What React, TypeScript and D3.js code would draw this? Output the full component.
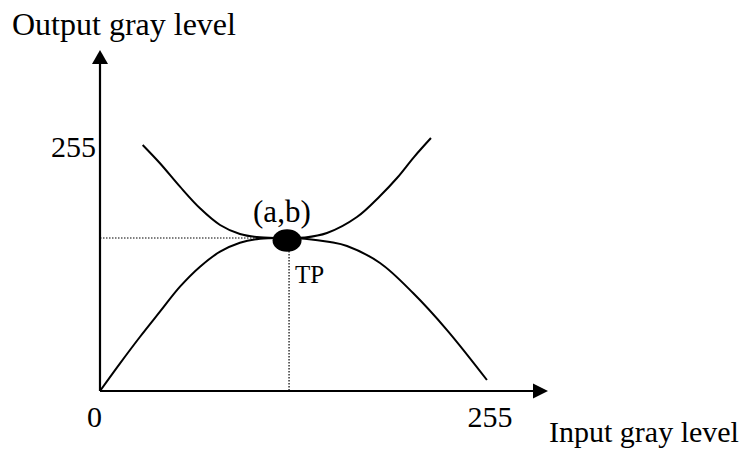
import React from "react";
import * as d3 from "d3";

const W = 748;
const H = 454;

// axis domain (gray levels)
const axisMax = 255;
const xTickLabels = ["0", "255"];
const yTickLabels = ["255"];

// upper curve (input, output)
const upperX = [27.9, 39.2, 52.3, 65.4, 78.5, 91.5, 104.6, 122.3, 134.0, 148.4, 168.0, 183.1, 194.2, 205.3, 216.4];
const upperY = [257.1, 238.0, 213.5, 190.9, 173.5, 164.1, 160.6, 159.9, 160.4, 165.1, 181.8, 203.8, 222.6, 244.5, 264.4];

// lower curve (input, output)
const lowerX = [0, 13.1, 26.2, 39.2, 52.3, 65.4, 78.5, 91.5, 104.6, 122.3, 134.0, 150.4, 161.5, 183.1, 204.7, 226.9, 253.0];
const lowerY = [0, 28.9, 56.7, 82.9, 109.0, 129.9, 145.6, 155.0, 159.2, 159.9, 159.2, 155.7, 151.5, 133.8, 102.4, 63.7, 11.5];

// turning point (a, b)
const tpX = 122.3;
const tpY = 159.9;

const FONT = "'Liberation Serif', 'Times New Roman', serif";

export default function App() {
  const x = d3.scaleLinear().domain([0, axisMax]).range([100, 490]);
  const y = d3.scaleLinear().domain([0, axisMax]).range([391, 147]);

  const line = d3
    .line<[number, number]>()
    .x((d) => x(d[0]))
    .y((d) => y(d[1]))
    .curve(d3.curveCatmullRom.alpha(0.5));

  const upper = upperX.map((v, i) => [v, upperY[i]] as [number, number]);
  const lower = lowerX.map((v, i) => [v, lowerY[i]] as [number, number]);

  const ox = x(0);
  const oy = y(0);
  const tx = x(tpX);
  const ty = y(tpY);

  return (
    <svg
      width={W}
      height={H}
      viewBox={`0 0 ${W} ${H}`}
      style={{ position: "absolute", left: 0, top: 0, background: "#fff" }}
    >
      <rect x={0} y={0} width={W} height={H} fill="#fff" />
      {/* dotted guides */}
      <line x1={ox} y1={ty} x2={tx - 12} y2={ty} stroke="#000" strokeWidth={1.2} strokeDasharray="1.5 1.5" />
      <line x1={tx + 2} y1={ty + 13} x2={tx + 2} y2={oy} stroke="#000" strokeWidth={1.2} strokeDasharray="1.5 1.5" />

      {/* curves */}
      <path d={line(upper) || ""} fill="none" stroke="#000" strokeWidth={2} />
      <path d={line(lower) || ""} fill="none" stroke="#000" strokeWidth={2} />

      {/* axes */}
      <line x1={ox} y1={oy} x2={ox} y2={63} stroke="#000" strokeWidth={2.2} />
      <polygon points={`${ox},50 ${ox - 8},64 ${ox + 8},64`} fill="#000" />
      <line x1={ox} y1={oy} x2={534} y2={oy} stroke="#000" strokeWidth={2.2} />
      <polygon points={`548,${oy} 533,${oy - 7.5} 533,${oy + 7.5}`} fill="#000" />

      {/* turning point */}
      <ellipse cx={tx} cy={ty + 2.5} rx={14.5} ry={11.2} fill="#000" />

      {/* texts */}
      <text x={12} y={35} fontFamily={FONT} fontSize={32} fill="#000">
        Output gray level
      </text>
      <text x={96} y={157} fontFamily={FONT} fontSize={30} textAnchor="end" fill="#000">
        {yTickLabels[0]}
      </text>
      <text x={ox - 5.5} y={427} fontFamily={FONT} fontSize={30} textAnchor="middle" fill="#000">
        {xTickLabels[0]}
      </text>
      <text x={x(255)} y={427} fontFamily={FONT} fontSize={30} textAnchor="middle" fill="#000">
        {xTickLabels[1]}
      </text>
      <text x={549} y={442} fontFamily={FONT} fontSize={30} fill="#000">
        Input gray level
      </text>
      <text x={tx - 34} y={222} fontFamily={FONT} fontSize={31} fill="#000">
        (a,b)
      </text>
      <text x={tx + 8} y={283} fontFamily={FONT} fontSize={25} fill="#000">
        TP
      </text>
    </svg>
  );
}
